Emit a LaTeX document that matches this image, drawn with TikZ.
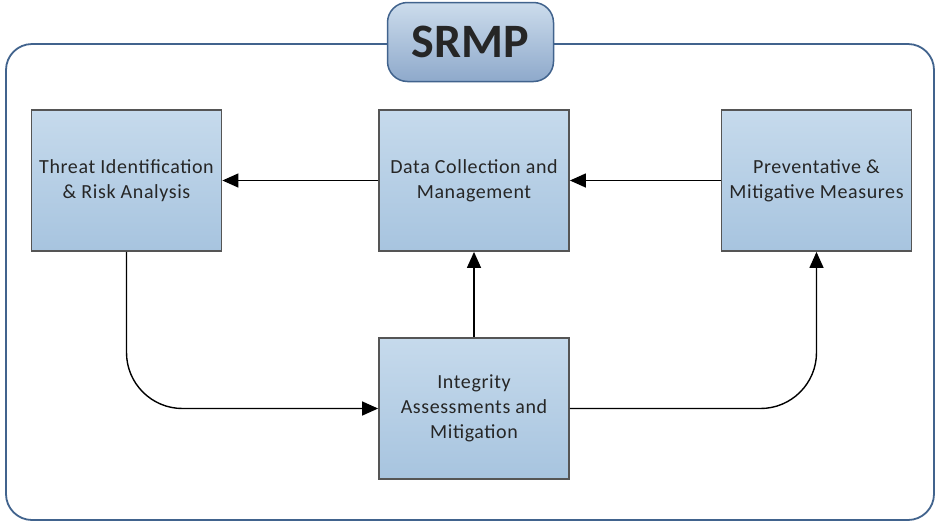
\documentclass[tikz,border=0pt]{standalone}
\usepackage{fontspec}
\setmainfont{Carlito}
\usetikzlibrary{arrows.meta}
\definecolor{frameblue}{HTML}{41638D}
\definecolor{boxtop}{HTML}{C6DAEC}
\definecolor{boxbot}{HTML}{A7C4DF}
\definecolor{titletop}{HTML}{CCDCEC}
\definecolor{titlebot}{HTML}{8EA9CB}
\definecolor{boxline}{HTML}{555555}
\definecolor{txt}{HTML}{262626}
\newfontfamily\boxfont[LetterSpace=3]{Carlito}

\begin{document}
\begin{tikzpicture}[x=1pt,y=-1pt,
  stepbox/.style={draw=boxline,line width=1.8pt,top color=boxtop,bottom color=boxbot,
    minimum width=190pt,minimum height=141pt,align=center,text=txt,
    font=\boxfont\fontsize{20}{25}\selectfont,inner sep=2pt},
  flow/.style={line width=1.4pt,-{Triangle[length=16pt,width=14pt]}}]
\useasboundingbox (0,0) rectangle (937,523);
% outer frame
\draw[frameblue,line width=1.8pt,rounded corners=26pt,fill=white] (6,44) rectangle (934,520);
% title
\node[draw=frameblue,line width=1.5pt,rounded corners=20pt,top color=titletop,bottom color=titlebot,
  minimum width=166pt,minimum height=79pt,font=\fontsize{48}{48}\selectfont\bfseries,text=txt]
  (title) at (470.5,42) {SRMP};
% boxes
\node[stepbox] (threat) at (126.5,180.5) {Threat Identification\\\& Risk Analysis};
\node[stepbox] (data) at (474,180.5) {Data Collection and\\Management};
\node[stepbox] (prev) at (816.5,180.5) {Preventative \&\\Mitigative Measures};
\node[stepbox] (integ) at (474,408.5) {Integrity\\Assessments and\\Mitigation};
% connectors
\draw[flow] (data) -- (threat);
\draw[flow] (prev) -- (data);
\draw[flow] (integ) -- (data);
\draw[flow,rounded corners=56pt] (threat.south) |- (integ.west);
\draw[flow,rounded corners=56pt] (integ.east) -| (prev.south);
\end{tikzpicture}
\end{document}
